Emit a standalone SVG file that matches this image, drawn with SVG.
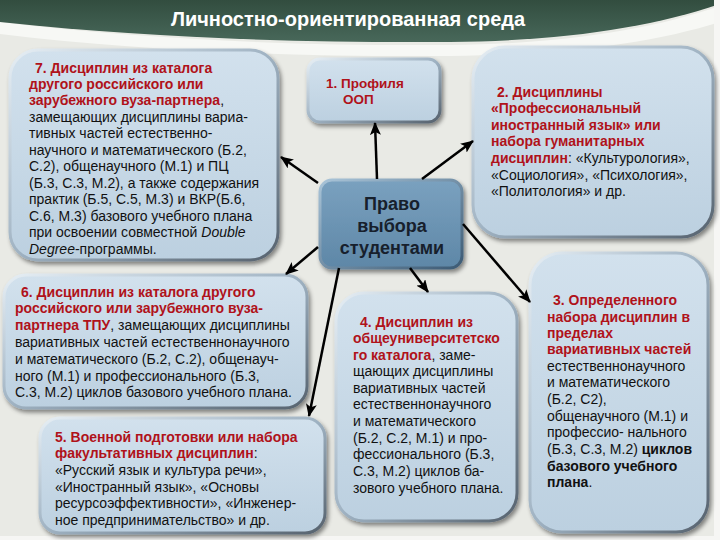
<svg xmlns="http://www.w3.org/2000/svg" width="720" height="540" viewBox="0 0 720 540">
<defs>
<linearGradient id="hdr" x1="0" y1="0" x2="0" y2="1">
<stop offset="0" stop-color="#324d3f"/><stop offset="1" stop-color="#48685a"/>
</linearGradient>
<linearGradient id="boxFill" x1="0" y1="0" x2="0" y2="1">
<stop offset="0" stop-color="#d2e1ed"/><stop offset="1" stop-color="#bcd0e0"/>
</linearGradient>
<linearGradient id="boxEdge" x1="0" y1="0" x2="1" y2="1">
<stop offset="0" stop-color="#e6eef4"/><stop offset="0.5" stop-color="#9fb2c2"/><stop offset="1" stop-color="#56626e"/>
</linearGradient>
<linearGradient id="ctrFill" x1="0" y1="0" x2="0" y2="1">
<stop offset="0" stop-color="#7aa1bf"/><stop offset="1" stop-color="#5e87a7"/>
</linearGradient>
<linearGradient id="ctrEdge" x1="0" y1="0" x2="1" y2="1">
<stop offset="0" stop-color="#a9c4d8"/><stop offset="1" stop-color="#3c5a74"/>
</linearGradient>
<filter id="sh" x="-10%" y="-10%" width="125%" height="125%">
<feDropShadow dx="2" dy="3" stdDeviation="2" flood-color="#000" flood-opacity="0.45"/>
</filter>
<marker id="ah" markerUnits="userSpaceOnUse" markerWidth="13" markerHeight="11" refX="12" refY="5.5" orient="auto">
<path d="M0,0 L13,5.5 L0,11 L3,5.5 Z" fill="#000"/>
</marker>
<style>
.box{fill:url(#boxFill);stroke:url(#boxEdge);stroke-width:3;filter:url(#sh)}
.ctr{fill:url(#ctrFill);stroke:url(#ctrEdge);stroke-width:3;filter:url(#sh)}
text{font-family:"Liberation Sans",Arial,sans-serif;font-size:14px;fill:#111}
.r{fill:#b0121a;font-weight:bold}
.b{font-weight:bold}
.i{font-style:italic}
.sm{font-size:13.5px}
.title{font-size:20px;font-weight:bold;fill:#fff}
.cen{font-size:18px;font-weight:bold;fill:#17202c;text-anchor:middle}
.conn line{stroke:#000;stroke-width:2.5;marker-end:url(#ah)}
</style>
</defs>
<rect width="720" height="540" fill="#e9eae5"/>
<path d="M0,22 C150,40 300,46 450,45 C560,44 650,30 720,6 V22 C650,44 560,55 450,56 C300,57 150,52 0,34 Z" fill="#f7f8f5"/>
<path d="M0,0 H720 V4 C650,28 560,41 450,42 C300,43 150,38 0,22 Z" fill="url(#hdr)"/>
<rect x="714" y="0" width="6" height="540" fill="#f6f6f4"/>
<rect x="0" y="536" width="720" height="4" fill="#f6f6f4"/>
<text class="title" x="348" y="26" text-anchor="middle">Личностно-ориентированная среда</text>

<g id="node7">
<rect class="box" x="10" y="50" width="268" height="210" rx="28"/>
<text x="29" y="73"><tspan class="r" x="35">7. Дисциплин из каталога</tspan>
<tspan class="r" x="29" y="89">другого российского или</tspan>
<tspan x="29" y="105"><tspan class="r">зарубежного вуза-партнера</tspan>,</tspan>
<tspan x="29" y="122">замещающих дисциплины вариа-</tspan>
<tspan x="29" y="138">тивных частей естественно-</tspan>
<tspan x="29" y="155">научного и математического (Б.2,</tspan>
<tspan x="29" y="171">С.2), общенаучного (М.1)  и ПЦ</tspan>
<tspan x="29" y="188">(Б.3, С.3, М.2), а также содержания</tspan>
<tspan x="29" y="204">практик (Б.5, С.5, М.3) и ВКР(Б.6,</tspan>
<tspan x="29" y="221">С.6, М.3) базового учебного плана</tspan>
<tspan x="29" y="237">при освоении совместной <tspan class="i">Double</tspan></tspan>
<tspan x="29" y="254"><tspan class="i">Degree</tspan>-программы.</tspan></text>
</g>

<g id="node1">
<rect class="box" x="308" y="59" width="132" height="63" rx="12"/>
<text class="r sm" x="326" y="88">1. Профиля<tspan x="343" y="104">ООП</tspan></text>
</g>

<g id="node2">
<rect class="box" x="473" y="47" width="240" height="190" rx="32"/>
<text x="491" y="97"><tspan class="r" x="497">2. Дисциплины</tspan>
<tspan class="r" x="491" y="113">«Профессиональный</tspan>
<tspan class="r" x="491" y="130">иностранный язык» или</tspan>
<tspan class="r" x="491" y="146">набора гуманитарных</tspan>
<tspan x="491" y="163"><tspan class="r">дисциплин</tspan>: «Культурология»,</tspan>
<tspan x="491" y="180">«Социология», «Психология»,</tspan>
<tspan x="491" y="196">«Политология» и др.</tspan></text>
</g>

<g id="center">
<rect class="ctr" x="320" y="180" width="142" height="88" rx="12"/>
<text class="cen" x="392" y="210">Право<tspan x="392" y="232">выбора</tspan><tspan x="392" y="254">студентами</tspan></text>
</g>

<g id="node6">
<rect class="box" x="4" y="275" width="303" height="133" rx="22"/>
<text x="15" y="297"><tspan class="r" x="21">6. Дисциплин из каталога другого</tspan>
<tspan class="r" x="15" y="313">российского или зарубежного вуза-</tspan>
<tspan x="15" y="330"><tspan class="r">партнера ТПУ</tspan>, замещающих дисциплины</tspan>
<tspan x="15" y="347">вариативных частей естественнонаучного</tspan>
<tspan x="15" y="364">и математического (Б.2, С.2), общенауч-</tspan>
<tspan x="15" y="381">ного (М.1)  и профессионального (Б.3,</tspan>
<tspan x="15" y="397">С.3, М.2) циклов базового учебного плана.</tspan></text>
</g>

<g id="node5">
<rect class="box" x="40" y="418" width="285" height="115" rx="20"/>
<text x="55" y="442"><tspan class="r">5. Военной подготовки или набора</tspan>
<tspan x="55" y="458"><tspan class="r">факультативных дисциплин</tspan>:</tspan>
<tspan x="55" y="475">«Русский язык и культура речи»,</tspan>
<tspan x="55" y="492">«Иностранный язык», «Основы</tspan>
<tspan x="55" y="508">ресурсоэффективности», «Инженер-</tspan>
<tspan x="55" y="525">ное предпринимательство» и др.</tspan></text>
</g>

<g id="node4">
<rect class="box" x="336" y="293" width="181" height="228" rx="28"/>
<text x="353" y="327"><tspan class="r" x="360">4. Дисциплин из</tspan>
<tspan class="r" x="353" y="343">общеуниверситетско</tspan>
<tspan x="353" y="360"><tspan class="r">го каталога</tspan>, заме-</tspan>
<tspan x="353" y="376">щающих дисциплины</tspan>
<tspan x="353" y="393">вариативных частей</tspan>
<tspan x="353" y="409">естественнонаучного</tspan>
<tspan x="353" y="426">и математического</tspan>
<tspan x="353" y="443">(Б.2, С.2, М.1) и про-</tspan>
<tspan x="353" y="459">фессионального (Б.3,</tspan>
<tspan x="353" y="476">С.3, М.2) циклов ба-</tspan>
<tspan x="353" y="493">зового учебного плана.</tspan></text>
</g>

<g id="node3">
<rect class="box" x="530" y="253" width="178" height="279" rx="32"/>
<text x="547" y="305"><tspan class="r" x="553">3. Определенного</tspan>
<tspan class="r" x="547" y="322">набора дисциплин в</tspan>
<tspan class="r" x="547" y="338">пределах</tspan>
<tspan class="r" x="547" y="354">вариативных частей</tspan>
<tspan x="547" y="371">естественнонаучного</tspan>
<tspan x="547" y="387">и математического</tspan>
<tspan x="547" y="404">(Б.2, С2),</tspan>
<tspan x="547" y="421">общенаучного (М.1) и</tspan>
<tspan x="547" y="437">профессио- нального</tspan>
<tspan x="547" y="454">(Б.3, С.3, М.2) <tspan class="b">циклов</tspan></tspan>
<tspan class="b" x="547" y="471">базового учебного</tspan>
<tspan x="547" y="487"><tspan class="b">плана</tspan>.</tspan></text>
</g>

<g id="connectors" class="conn">
<line x1="377" y1="179" x2="375" y2="123"/>
<line x1="422" y1="179" x2="473" y2="141"/>
<line x1="318" y1="183" x2="281" y2="157"/>
<line x1="318" y1="247" x2="286" y2="274"/>
<line x1="339" y1="268" x2="309" y2="416"/>
<line x1="410" y1="268" x2="428" y2="292"/>
<line x1="463" y1="224" x2="530" y2="302"/>
</g>
</svg>
